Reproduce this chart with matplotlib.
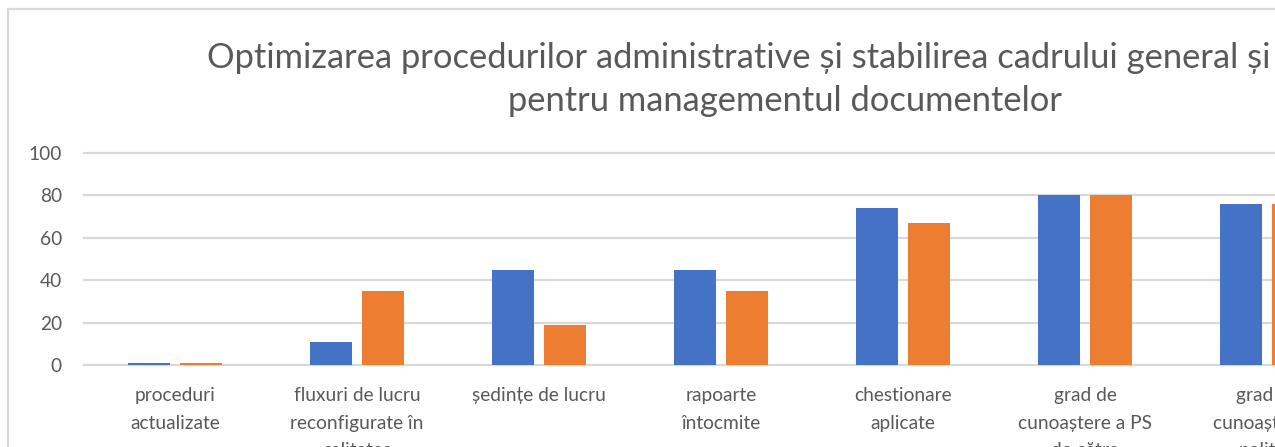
import matplotlib.pyplot as plt
from matplotlib.patches import Rectangle

# categories and the two series
categories = ["proceduri\nactualizate",
              "fluxuri de lucru\nreconfigurate în\ncalitatea",
              "ședințe de lucru",
              "rapoarte\nîntocmite",
              "chestionare\naplicate",
              "grad de\ncunoaștere a PS\nde către",
              "grad de\ncunoaștere a\npolitici"]
series_a = [1, 11, 45, 45, 74, 80, 76]
series_b = [1, 35, 19, 35, 67, 80, 76]
y_ticks = [0, 20, 40, 60, 80, 100]

blue = "#4472C4"
orange = "#ED7D31"
grey_txt = "#595959"
grid_col = "#D9D9D9"

W, H = 1275, 447
fig = plt.figure(figsize=(W / 100, H / 100), dpi=100)
plt.rcParams['font.family'] = ['Lato', 'DejaVu Sans']

# chart area border (runs off the right and bottom)
fig.patches.append(Rectangle((7.5 / W, -0.1), 2.0, 1.1 - 8.5 / H,
                             transform=fig.transFigure, fill=False,
                             edgecolor=grid_col, linewidth=1.6))

# plot area
left, bottom, top = 84, 365, 153
ax = fig.add_axes([left / W, (H - bottom) / H, (W - left) / W, (bottom - top) / H])
ax.set_facecolor("none")

x = list(range(len(categories)))
width = 0.231
off = 0.143
ax.bar([i - off for i in x], series_a, width, color=blue, zorder=3)
ax.bar([i + off for i in x], series_b, width, color=orange, zorder=3)

ax.set_ylim(0, 100)
ax.set_xlim(-0.5, (W - left) / 182 - 0.5)
ax.set_yticks(y_ticks)
ax.yaxis.grid(True, color=grid_col, linewidth=1.6, zorder=0)
for g in ax.yaxis.get_gridlines():
    g.set_clip_on(False)
for s in ax.spines.values():
    s.set_visible(False)
ax.tick_params(axis='both', length=0, labelsize=13.8, labelcolor=grey_txt)
ax.tick_params(axis='y', pad=16)
ax.tick_params(axis='x', pad=16)
ax.set_xticks(x)
ax.set_xticklabels(categories, linespacing=1.75, va='top')

# two-line title
fig.text(207 / W, 1 - 68 / H,
         "Optimizarea procedurilor administrative și stabilirea cadrului general și",
         ha='left', va='baseline', fontsize=24.8, color=grey_txt)
fig.text(785 / W, 1 - 111 / H, "pentru managementul documentelor",
         ha='center', va='baseline', fontsize=24.8, color=grey_txt)

fig.savefig("out.png", dpi=100)
